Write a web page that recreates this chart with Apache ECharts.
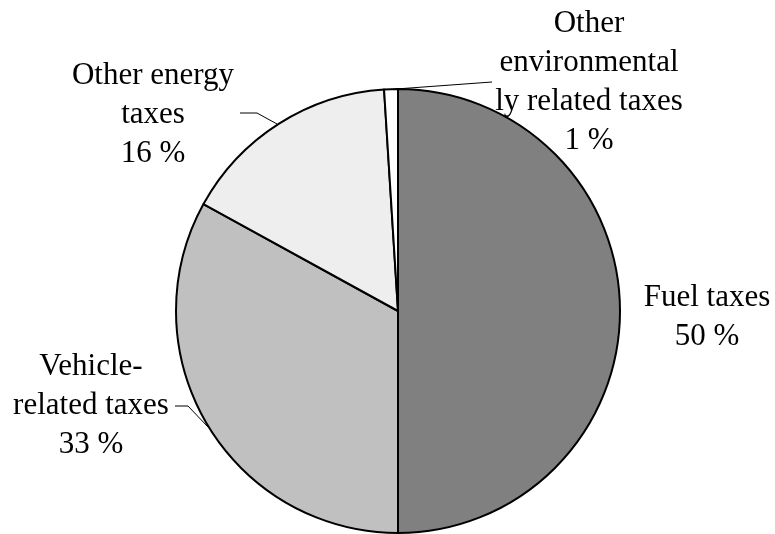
<!DOCTYPE html>
<html>
<head>
<meta charset="utf-8">
<script src="https://cdn.jsdelivr.net/npm/echarts@6/dist/echarts.min.js"></script>
<style>
  html, body { margin: 0; padding: 0; background: #fff; }
  #chart { width: 775px; height: 534px; }
</style>
</head>
<body>
<div id="chart"></div>
<script>
// Environmentally related taxes by type (share of total, %)
const categories = [
  'Fuel taxes',
  'Vehicle-\nrelated taxes',
  'Other energy\ntaxes',
  'Other\nenvironmental\nly related taxes'
];
const shares = [50, 33, 16, 1];
const sliceColors = ['#808080', '#c0c0c0', '#eeeeee', '#ffffff'];

// Label anchor (block centre) and leader-line points for each slice
const labelSpots = [
  { x: 707, y: 317, line: null },
  { x: 91,  y: 406, line: [[208, 427], [188, 406], [175, 406]] },
  { x: 153, y: 115, line: [[277, 124], [257, 113], [240, 113]] },
  { x: 589, y: 82,  line: [[396, 89], [492, 82]] }
];

const chart = echarts.init(document.getElementById('chart'), null, { renderer: 'canvas' });

chart.setOption({
  backgroundColor: '#ffffff',
  animation: false,
  series: [{
    type: 'pie',
    center: [398, 311],
    radius: 222,
    startAngle: 90,
    clockwise: true,
    avoidLabelOverlap: false,
    itemStyle: { borderColor: '#000', borderWidth: 2 },
    emphasis: { disabled: true },
    label: {
      show: true,
      formatter: p => p.name + '\n' + p.value + ' %',
      fontFamily: '"Liberation Serif", "Times New Roman", serif',
      fontSize: 31,
      lineHeight: 39,
      color: '#000',
      align: 'center'
    },
    labelLine: { show: true, lineStyle: { color: '#000', width: 1 } },
    labelLayout: params => {
      const s = labelSpots[params.dataIndex];
      const out = { x: s.x, y: s.y, align: 'center', verticalAlign: 'middle' };
      if (s.line) out.labelLinePoints = s.line;
      return out;
    },
    data: categories.map((name, i) => ({
      name: name,
      value: shares[i],
      itemStyle: { color: sliceColors[i] },
      labelLine: { show: !!labelSpots[i].line }
    }))
  }]
});
</script>
</body>
</html>
